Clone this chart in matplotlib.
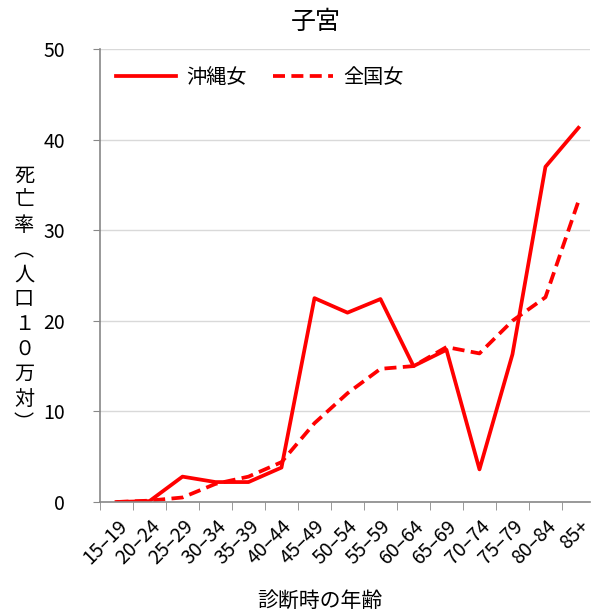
import matplotlib
matplotlib.use('Agg')
import matplotlib.pyplot as plt
import numpy as np

plt.rcParams['font.family'] = ['Noto Sans CJK JP', 'DejaVu Sans']

# Data
age_groups = ['15–19', '20–24', '25–29', '30–34', '35–39', '40–44', '45–49', '50–54',
              '55–59', '60–64', '65–69', '70–74', '75–79', '80–84', '85+']
okinawa_f = [0.0, 0.1, 2.8, 2.2, 2.2, 3.8, 22.5, 20.9, 22.4, 15.0, 16.8, 3.6, 16.3, 37.0, 41.3]
japan_f = [0.0, 0.15, 0.5, 2.0, 2.8, 4.4, 8.7, 12.0, 14.7, 15.0, 17.1, 16.4, 20.0, 22.6, 33.2]
y_ticks = [0, 10, 20, 30, 40, 50]

fig = plt.figure(figsize=(5.94, 6.16), dpi=100)
ax = fig.add_axes([100 / 594, 1 - 502 / 616, 490 / 594, 453 / 616])

x = np.arange(len(age_groups))
ax.plot(x, okinawa_f, color='#ff0000', lw=2.7, label='沖縄女')
ax.plot(x, japan_f, color='#ff0000', lw=2.7, ls=(0, (3.2, 1.7)), label='全国女')

ax.set_xlim(-0.5, 14.35)
ax.set_ylim(0, 50)
ax.set_yticks(y_ticks)
ax.tick_params(axis='y', labelsize=14, length=5, color='#888888', pad=20)
ax.yaxis.grid(True, color='#d9d9d9', lw=1)
ax.set_axisbelow(True)

ax.set_xticks(x)
ax.set_xticklabels(age_groups, rotation=45, ha='right', rotation_mode='anchor', fontsize=14)
ax.tick_params(axis='x', which='major', length=0, pad=10)
ax.set_xticks(np.arange(-0.5, 14.5, 1), minor=True)
ax.tick_params(axis='x', which='minor', length=6, color='#888888')

for s in ['top', 'right']:
    ax.spines[s].set_visible(False)
for s in ['left', 'bottom']:
    ax.spines[s].set_color('#888888')
    ax.spines[s].set_linewidth(1.2)

ax.legend(loc='upper left', ncol=2, frameon=False, fontsize=14.5, handlelength=3.0,
          columnspacing=1.3, handletextpad=0.5, bbox_to_anchor=(-0.005, 1.0))

fig.text(316 / 594, 1 - 22 / 616, '子宮', ha='center', va='center', fontsize=18)
fig.text(320 / 594, 1 - 601 / 616, '診断時の年齢', ha='center', va='center', fontsize=15)

ylab = '死亡率︵人口１０万対︶'
fig.text(24 / 594, 1 - 300 / 616, '\n'.join(ylab), ha='center', va='center',
         fontsize=14.5, linespacing=1.24)

fig.savefig('out.png', dpi=100)
